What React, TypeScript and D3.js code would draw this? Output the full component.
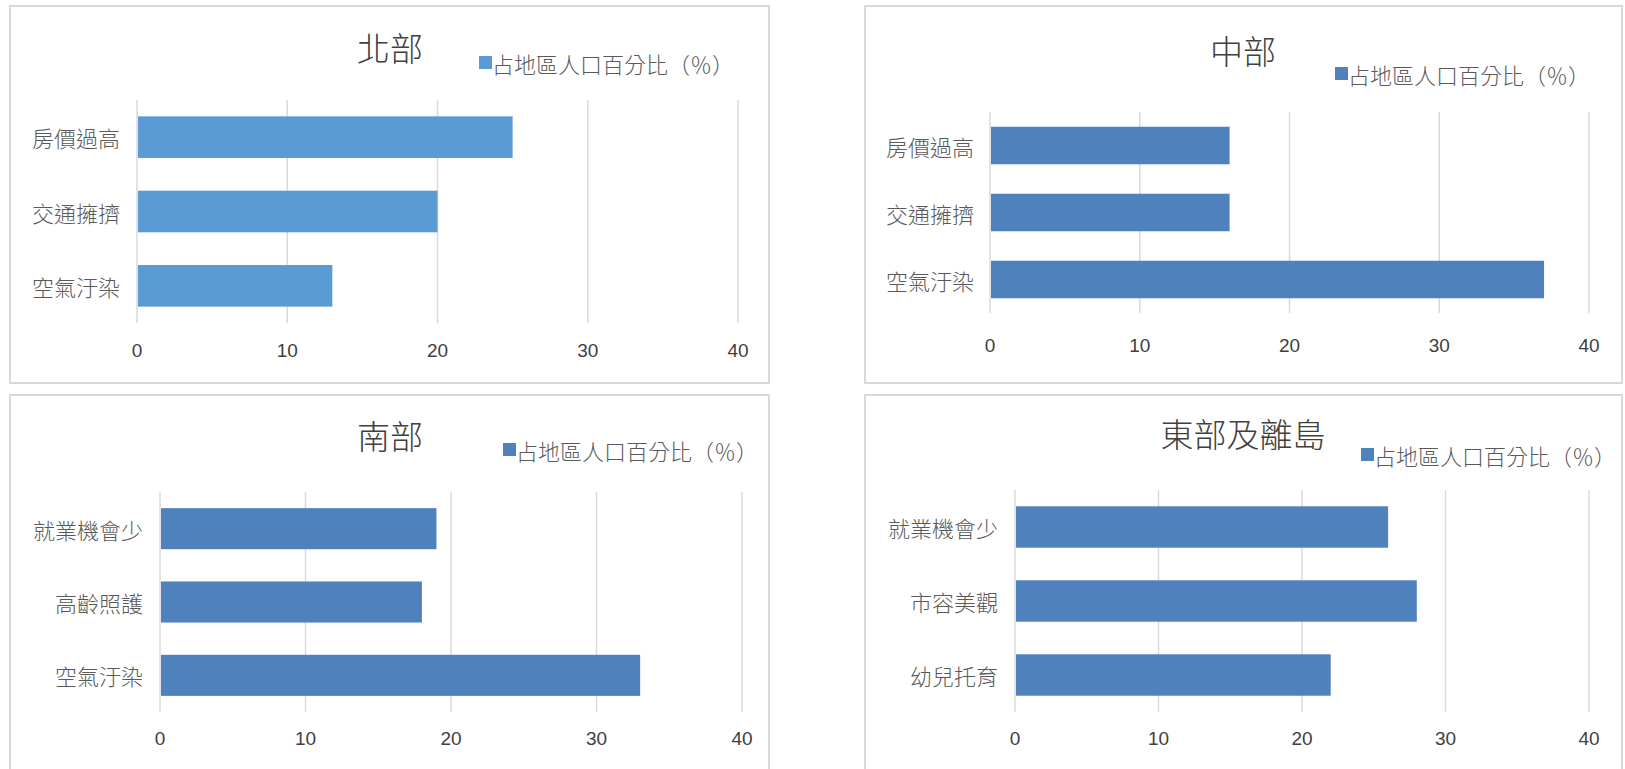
import React, { useEffect, useRef } from "react";
import * as d3 from "d3";

// ---- data ----
const regionTitles = ["北部", "中部", "南部", "東部及離島"];
const seriesName = "占地區人口百分比（％）";

const northCategories = ["房價過高", "交通擁擠", "空氣汙染"];
const northValues = [25, 20, 13];

const centralCategories = ["房價過高", "交通擁擠", "空氣汙染"];
const centralValues = [16, 16, 37];

const southCategories = ["就業機會少", "高齡照護", "空氣汙染"];
const southValues = [19, 18, 33];

const eastCategories = ["就業機會少", "市容美觀", "幼兒托育"];
const eastValues = [26, 28, 22];

const xTicks = [0, 10, 20, 30, 40];

// ---- layout (pixels) ----
interface PanelLayout {
  box: [number, number, number, number];
  titleX: number;
  titleY: number;
  legendX: number;
  legendY: number;
  plotX0: number;
  plotX1: number;
  plotY0: number;
  plotY1: number;
  tickY: number;
  labelX: number;
  color: string;
}

const layouts: PanelLayout[] = [
  { box: [10, 6, 769, 383], titleX: 390, titleY: 47, legendX: 479, legendY: 63, plotX0: 137, plotX1: 738, plotY0: 100, plotY1: 323, tickY: 352, labelX: 120, color: "#5B9BD5" },
  { box: [865, 6, 1622, 383], titleX: 1243, titleY: 50, legendX: 1335, legendY: 74, plotX0: 990, plotX1: 1589, plotY0: 112, plotY1: 313, tickY: 347, labelX: 974, color: "#4F81BD" },
  { box: [10, 395, 769, 790], titleX: 390, titleY: 435, legendX: 503, legendY: 450, plotX0: 160, plotX1: 742, plotY0: 492, plotY1: 712, tickY: 740, labelX: 143, color: "#4F81BD" },
  { box: [865, 395, 1622, 790], titleX: 1243, titleY: 433, legendX: 1361, legendY: 455, plotX0: 1015, plotX1: 1589, plotY0: 490, plotY1: 712, tickY: 740, labelX: 998, color: "#4F81BD" },
];

const panelData = [
  { categories: northCategories, values: northValues },
  { categories: centralCategories, values: centralValues },
  { categories: southCategories, values: southValues },
  { categories: eastCategories, values: eastValues },
];

const cjkFont = "'Noto Sans CJK TC', 'Noto Sans CJK SC', sans-serif";
const numFont = "'Liberation Sans Narrow', 'Liberation Sans', Arial, sans-serif";

const App: React.FC = () => {
  const svgRef = useRef<SVGSVGElement>(null);

  useEffect(() => {
    if (!svgRef.current) return;
    const svg = d3.select(svgRef.current);
    svg.selectAll("*").remove();

    svg.append("rect").attr("width", 1625).attr("height", 769).attr("fill", "#fff");

    layouts.forEach((lay, i) => {
      const { categories, values } = panelData[i];
      const g = svg.append("g");

      // panel frame
      const [bx0, by0, bx1, by1] = lay.box;
      g.append("rect")
        .attr("x", bx0)
        .attr("y", by0)
        .attr("width", bx1 - bx0)
        .attr("height", by1 - by0)
        .attr("fill", "#fff")
        .attr("stroke", "#D9D9D9")
        .attr("stroke-width", 2);

      const x = d3.scaleLinear().domain([0, 40]).range([lay.plotX0, lay.plotX1]);
      const y = d3
        .scaleBand<string>()
        .domain(categories)
        .range([lay.plotY0, lay.plotY1])
        .paddingInner(0.44)
        .paddingOuter(0.22);

      // gridlines
      g.selectAll(".grid")
        .data(xTicks)
        .enter()
        .append("line")
        .attr("x1", (d) => x(d))
        .attr("x2", (d) => x(d))
        .attr("y1", lay.plotY0)
        .attr("y2", lay.plotY1)
        .attr("stroke", "#D9D9D9")
        .attr("stroke-width", 1.5);

      // bars
      g.selectAll(".bar")
        .data(values)
        .enter()
        .append("rect")
        .attr("x", x(0) + 1)
        .attr("y", (_d, j) => y(categories[j]) as number)
        .attr("width", (d) => x(d) - x(0) - 1)
        .attr("height", y.bandwidth())
        .attr("fill", lay.color);

      // tick labels
      g.selectAll(".tick")
        .data(xTicks)
        .enter()
        .append("text")
        .attr("x", (d) => x(d))
        .attr("y", lay.tickY)
        .attr("text-anchor", "middle")
        .attr("dominant-baseline", "middle")
        .style("font-family", numFont)
        .style("font-size", "19px")
        .style("fill", "#404040")
        .text((d) => d);

      // category labels
      g.selectAll(".cat")
        .data(categories)
        .enter()
        .append("text")
        .attr("x", lay.labelX)
        .attr("y", (d) => (y(d) as number) + y.bandwidth() / 2)
        .attr("text-anchor", "end")
        .attr("dominant-baseline", "central")
        .style("font-family", cjkFont)
        .style("font-size", "22px")
        .style("font-weight", 300)
        .style("fill", "#595959")
        .text((d) => d);

      // title
      g.append("text")
        .attr("x", lay.titleX)
        .attr("y", lay.titleY)
        .attr("text-anchor", "middle")
        .attr("dominant-baseline", "central")
        .style("font-family", cjkFont)
        .style("font-size", "33px")
        .style("font-weight", 300)
        .style("fill", "#404040")
        .text(regionTitles[i]);

      // legend
      g.append("rect")
        .attr("x", lay.legendX)
        .attr("y", lay.legendY - 7)
        .attr("width", 13)
        .attr("height", 13)
        .attr("fill", lay.color);

      g.append("text")
        .attr("x", lay.legendX + 13)
        .attr("y", lay.legendY)
        .attr("dominant-baseline", "central")
        .style("font-family", cjkFont)
        .style("font-size", "22px")
        .style("font-weight", 300)
        .style("fill", "#595959")
        .text(seriesName);
    });
  }, []);

  return (
    <svg
      ref={svgRef}
      width={1625}
      height={769}
      style={{ position: "absolute", left: 0, top: 0, display: "block" }}
    />
  );
};

export default App;
